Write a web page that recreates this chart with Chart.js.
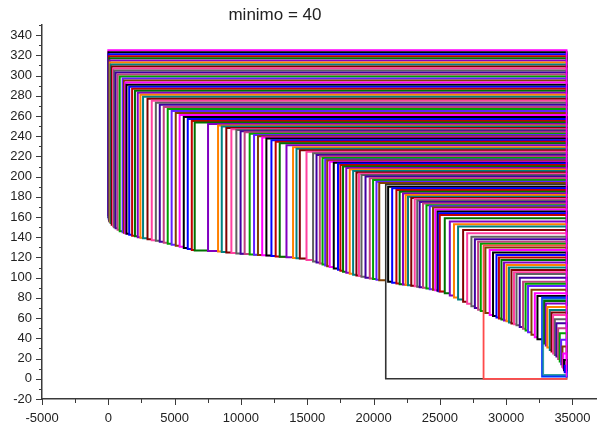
<!DOCTYPE html>
<html>
<head>
<meta charset="utf-8">
<script src="https://cdn.jsdelivr.net/npm/chart.js@4.4.0/dist/chart.umd.min.js"></script>
<style>
  html, body { margin: 0; padding: 0; background: #fff; }
  #wrap { position: relative; width: 597px; height: 426px; }
  #title { position: absolute; left: 0; top: 6px; width: 550px; text-align: center;
           font: 17px "Liberation Sans", Arial, sans-serif; line-height: 18px; color: #222; }
</style>
</head>
<body>
<div id="wrap">
  <canvas id="chart" width="597" height="426"></canvas>
  <div id="title">minimo = 40</div>
</div>
<script>
// left edge of every box (all boxes run to xEnd)
const xs = [
  0, 10, 25, 50, 75, 95, 120, 170, 255, 360,
  440, 550, 700, 860, 1080, 1180, 1280, 1370, 1575, 1795,
  2010, 2220, 2420, 2620, 2955, 3275, 3585, 3880, 4180, 4480,
  4775, 5085, 5380, 5690, 5990, 6295, 6515, 7520, 8275, 8555,
  8900, 9280, 9655, 9975, 10280, 10660, 10990, 11285, 11605, 11920,
  12300, 12620, 12925, 13435, 13930, 14190, 14440, 14945, 15440, 15700,
  15950, 16155, 16355, 16505, 16695, 17000, 17320, 17500, 17700, 17945,
  18205, 18460, 18710, 18900, 19090, 19395, 19715, 19965, 20220, 20430,
  20920, 21100, 21405, 21725, 21970, 22220, 22420, 22600, 22845, 23105,
  23295, 23480, 23730, 23990, 24240, 24485, 24655, 24825, 24905, 24995,
  25370, 25750, 26065, 26375, 26755, 27060, 27380, 27640, 27885, 28085,
  28296, 28435, 28760, 29010, 29270, 29455, 29645, 29835, 30025, 30210,
  30400, 30590, 30780, 31025, 31275, 31465, 31650, 31910, 32160, 32360,
  32737, 32800, 32880, 32990, 33105, 33290, 33420, 33540, 33670, 33790,
  33920, 34040, 34145, 34245, 34305, 34365, 34415
];
// top of every box
const tops = [
  325, 323, 321, 319, 317, 315, 313, 311, 309, 307,
  305, 303, 301, 299, 297, 295, 293, 291, 289, 287,
  285, 283, 281, 279, 277, 275, 273, 271, 269, 267,
  265, 263, 261, 259, 257, 255, 253.5, 252, 250.5, 249.5,
  248, 246.8, 246, 245, 244, 242.5, 241.2, 240, 238.8, 237.6,
  236, 234.5, 233, 231, 229, 227.5, 226, 224.6, 223, 221.5,
  220, 218.5, 217, 216, 214.6, 213.8, 213, 211.5, 210, 208.5,
  207, 205.5, 204, 202.8, 201.7, 200, 198.4, 196.7, 195, 193.6,
  192.2, 190, 188.4, 186.8, 185, 183.4, 181.7, 180, 178.9, 177.8,
  176.4, 175, 173.4, 171.8, 170.6, 169.5, 167.5, 165.5, 163.7, 162,
  158.8, 155.5, 153, 150.6, 147.2, 144, 140.6, 138, 135.6, 133.5,
  132, 130, 127.4, 125, 122.5, 120, 117.5, 115, 112.6, 110,
  107.6, 105.5, 103.7, 100, 96, 94, 91.8, 88, 84.5, 82,
  80, 78.5, 77, 74.6, 71, 68, 65.5, 63, 59, 55,
  50, 45, 38.5, 32, 25, 18.5, 13
];
// bottom of every box
const bottoms = [
  162, 160, 158.5, 157, 156, 155.5, 155, 154, 152.5, 151,
  150, 149, 147.5, 146, 145, 144.5, 144, 143.5, 142.5, 141.5,
  141, 140, 139.5, 139, 138, 137, 136.5, 135.5, 134.5, 133.5,
  132.5, 131.5, 130.5, 129.5, 128.5, 127.5, 127, 126.5, 126, 125.5,
  125, 124.5, 124, 123.8, 123.5, 123, 122.8, 122.5, 122.2, 122,
  121.5, 121, 120.8, 120.2, 119.5, 119.2, 119, 117.5, 116, 115,
  114, 113, 112, 111.3, 110.5, 109, 107.8, 107, 106, 105,
  104, 103, 102.2, 101.6, 101, 100, 99.3, 98.7, 98, 97.5,
  0, 96, 95, 94.2, 93.6, 93.2, 92.8, 92.5, 92, 91.5,
  91, 90.6, 90, 89.2, 88.6, 88, 87.6, 87, 86.6, 86.3,
  84.7, 82.3, 80.5, 78.5, 76.2, 74.2, 71.8, 70, 68.3, 67,
  0, 65, 63.2, 62, 60.6, 59.6, 58.6, 57.7, 56.8, 55.8,
  54.8, 53.9, 53, 51.3, 49.5, 47.8, 46, 43.5, 41, 39,
  2.5, 4, 35, 33, 31, 28.5, 27, 25, 23.5, 22,
  19.5, 17, 14.5, 12, 10.5, 8.5, 6.5
];
const xEnd = 34550;

// axis ticks: labelled every 5000 / 20, plain marks in between
const xTicks = [-5000, -2500, 0, 2500, 5000, 7500, 10000, 12500, 15000, 17500,
                20000, 22500, 25000, 27500, 30000, 32500, 35000];
const xLabels = [-5000, 0, 5000, 10000, 15000, 20000, 25000, 30000, 35000];
const yLabelStep = 20;

const palette = ['#ff00ff', '#000000', '#0000ff', '#c00000', '#007000', '#8000c0', '#ff8000', '#008080',
                 '#800000', '#ff40a0', '#606060', '#4000a0', '#c04080', '#00a000', '#6020ff', '#804000'];
// the boxes that drop to the floor get their own colours
const specialColors = { 80: '#333333', 110: '#ff4a4a', 130: '#0033ff', 131: '#30a0a0' };
const specialWidths = { 80: 1.6, 110: 1.8, 130: 2.6, 131: 1.6 };
const axisColor = '#3a3a3a';
const font = { family: '"Liberation Sans", Arial, sans-serif', size: 13 };

const boxes = xs.map((x, i) => ({
  data: [
    { x: x, y: bottoms[i] }, { x: xEnd, y: bottoms[i] },
    { x: xEnd, y: tops[i] }, { x: x, y: tops[i] }, { x: x, y: bottoms[i] }
  ],
  borderColor: specialColors[i] || palette[i % palette.length],
  borderWidth: specialWidths[i] || 2,
  borderCapStyle: 'square',
  borderJoinStyle: 'miter',
  backgroundColor: '#ffffff',
  fill: 'shape',
  pointRadius: 0,
  tension: 0,
  order: xs.length - i + 1   // later boxes paint over earlier ones
}));

// outer right side of the frame
boxes.push({
  data: [{ x: xEnd, y: 2 }, { x: xEnd, y: tops[0] }],
  borderColor: '#ff00ff', borderWidth: 1.5, pointRadius: 0, fill: false, order: 0
});

// axis tick marks, long on labelled values, short between
const tickMarks = {
  id: 'tickMarks',
  afterDraw(chart) {
    const { ctx, scales: { x, y } } = chart;
    ctx.save();
    ctx.strokeStyle = axisColor;
    ctx.lineWidth = 1;
    x.ticks.forEach(t => {
      const px = Math.round(x.getPixelForValue(t.value)) + 0.5;
      const len = xLabels.includes(t.value) ? 6 : 4;
      ctx.beginPath(); ctx.moveTo(px, y.bottom); ctx.lineTo(px, y.bottom + len); ctx.stroke();
    });
    y.ticks.forEach(t => {
      const py = Math.round(y.getPixelForValue(t.value)) + 0.5;
      const len = t.value % yLabelStep === 0 ? 6 : 3;
      ctx.beginPath(); ctx.moveTo(x.left, py); ctx.lineTo(x.left - len, py); ctx.stroke();
    });
    ctx.restore();
  }
};

new Chart(document.getElementById('chart'), {
  type: 'line',
  data: { datasets: boxes },
  options: {
    responsive: false,
    animation: false,
    events: [],
    layout: { padding: { top: 25, right: 0, bottom: 0, left: 0 } },
    plugins: { legend: { display: false }, tooltip: { enabled: false } },
    scales: {
      x: {
        type: 'linear', min: -5000, max: 36850,
        border: { display: true, color: axisColor, width: 1.5 },
        grid: { drawOnChartArea: false, drawTicks: false },
        afterBuildTicks: s => { s.ticks = xTicks.map(v => ({ value: v })); },
        ticks: {
          autoSkip: false, maxRotation: 0, padding: 12, color: '#222', font: font,
          callback: v => xLabels.includes(v) ? String(v) : ''
        },
        afterFit: s => { s.height = 27; s.paddingLeft = 0; s.paddingRight = 0; }
      },
      y: {
        type: 'linear', min: -20, max: 350,
        border: { display: true, color: axisColor, width: 1.5 },
        grid: { drawOnChartArea: false, drawTicks: false },
        ticks: {
          stepSize: 10, autoSkip: false, padding: 10, color: '#222', font: font,
          callback: v => v % yLabelStep === 0 ? String(v) : ''
        },
        afterFit: s => { s.width = 42; }
      }
    }
  },
  plugins: [tickMarks]
});
</script>
</body>
</html>
